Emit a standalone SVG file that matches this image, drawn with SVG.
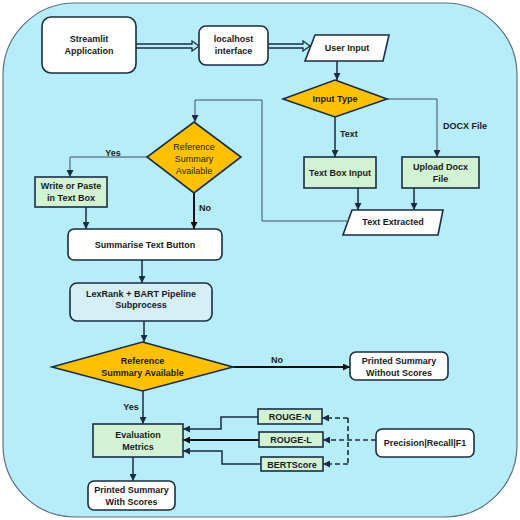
<svg xmlns="http://www.w3.org/2000/svg" width="520" height="520" viewBox="0 0 520 520">
<defs>
<marker id="ah" viewBox="0 0 10 10" refX="10" refY="5" markerWidth="7" markerHeight="7" markerUnits="userSpaceOnUse" orient="auto">
<path d="M0,0 L10,5 L0,10 z" fill="#1b2d45"/>
</marker>
<marker id="ahb" viewBox="0 0 10 10" refX="10" refY="5" markerWidth="7" markerHeight="7" markerUnits="userSpaceOnUse" orient="auto">
<path d="M0,0 L10,5 L0,10 z" fill="#111"/>
</marker>
</defs>
<style>
text{font-family:"Liberation Sans",Arial,sans-serif;font-size:9px;font-weight:bold;fill:#1a1a1a;text-anchor:middle}
.lbl{text-anchor:start}
.lt{font-weight:normal;fill:#222}
.box{stroke:#1b2d45;stroke-width:1.6}
.w{fill:#ffffff}
.g{fill:#d2f2d4}
.b{fill:#d6eff6}
.d{fill:#ffc000}
.c{fill:none;stroke:#1b2d45;stroke-width:1.5;marker-end:url(#ah)}
.ck{fill:none;stroke:#111;stroke-width:2;marker-end:url(#ahb)}
.ct{fill:none;stroke:#3e5060;stroke-width:1;marker-end:url(#ah)}
.cd{fill:none;stroke:#1b2d45;stroke-width:1.6;stroke-dasharray:5,3}
.cda{fill:none;stroke:#1b2d45;stroke-width:1.6;stroke-dasharray:5,3;marker-end:url(#ah)}
</style>
<rect x="3" y="3" width="514" height="514" rx="72" ry="72" fill="#b6edf9" stroke="#5a6f80" stroke-width="1.2"/>

<g id="connectors">
<path d="M136,44 H192 V41 L199,46 L192,51 V48 H136" fill="none" stroke="#1b2d45" stroke-width="1.3"/>
<path d="M268,44 H303 V41 L310,46 L303,51 V48 H268" fill="none" stroke="#1b2d45" stroke-width="1.3"/>
<path class="c" d="M337,61 V80"/>
<path class="c" d="M335,117 V157"/>
<path class="ct" d="M387,99 H437 V157"/>
<path class="c" d="M358,188 V210"/>
<path class="c" d="M414,188 V210"/>
<path class="ct" d="M347,221 H262 V100 H195 V122"/>
<path class="ct" d="M147,157 H70 V177"/>
<path class="ck" d="M194,193 V229"/>
<path class="c" d="M86,207 V229"/>
<path class="c" d="M142,260 V283"/>
<path class="c" d="M144,321 V342"/>
<path class="ck" d="M233,367 H350"/>
<path class="c" d="M143,391 V424"/>
<path class="c" d="M133,457 V481"/>
<path class="c" d="M258,417 H221 V429 H183"/>
<path class="ck" d="M259,440 H183"/>
<path class="c" d="M261,464 H222 V451 H183"/>
<path class="cda" d="M376,440 H323"/>
<path class="cd" d="M348,418 V464"/>
<path class="cda" d="M348,418 H322"/>
<path class="cda" d="M348,464 H323"/>
<text class="lbl" x="340" y="137">Text</text>
<text class="lbl" x="443" y="129">DOCX File</text>
<text x="113" y="156">Yes</text>
<text class="lbl" x="199" y="211">No</text>
<text class="lbl" x="271" y="363">No</text>
<text x="131" y="410">Yes</text>
</g>

<g id="streamlit">
<rect class="box w" x="42" y="17" width="94" height="56" rx="9"/>
<text x="89" y="42">Streamlit</text>
<text x="89" y="54">Application</text>
</g>
<g id="localhost">
<rect class="box w" x="199" y="26" width="69" height="39" rx="7"/>
<text x="233.5" y="42">localhost</text>
<text x="233.5" y="54">interface</text>
</g>
<g id="user-input">
<polygon class="box w" points="315,35 389,35 383,61 305,61"/>
<text x="347" y="51">User Input</text>
</g>
<g id="input-type">
<polygon class="box d" points="335,80 387,99 335,117 283,99"/>
<text x="335" y="102">Input Type</text>
</g>
<g id="text-box-input">
<rect class="box g" x="304" y="157" width="72" height="31"/>
<text x="340" y="176">Text Box Input</text>
</g>
<g id="upload-docx">
<rect class="box g" x="402" y="157" width="77" height="31"/>
<text x="440.5" y="170">Upload Docx</text>
<text x="440.5" y="182">File</text>
</g>
<g id="text-extracted">
<polygon class="box w" points="352,210 443,210 438,235 343,235"/>
<text x="393" y="225">Text Extracted</text>
</g>
<g id="ref-summary-1">
<polygon class="box d" points="194,122 241,157 194,193 147,157"/>
<text class="lt" x="194" y="150">Reference</text>
<text class="lt" x="194" y="162">Summary</text>
<text class="lt" x="194" y="174">Available</text>
</g>
<g id="write-paste">
<rect class="box g" x="35" y="177" width="72" height="30"/>
<text x="71" y="189">Write or Paste</text>
<text x="71" y="201">in Text Box</text>
</g>
<g id="summarise">
<rect class="box w" x="68" y="229" width="154" height="31" rx="6"/>
<text x="145" y="248">Summarise Text Button</text>
</g>
<g id="lexrank">
<rect class="box b" x="70" y="283" width="142" height="38" rx="7"/>
<text x="141" y="297">LexRank + BART Pipeline</text>
<text x="141" y="308">Subprocess</text>
</g>
<g id="ref-summary-2">
<polygon class="box d" points="142.5,342 233,367 142.5,391 52,367"/>
<text x="142.5" y="364">Reference</text>
<text x="142.5" y="376">Summary Available</text>
</g>
<g id="printed-without">
<rect class="box w" x="350" y="352" width="98" height="28" rx="6"/>
<text x="399" y="364">Printed Summary</text>
<text x="399" y="376">Without Scores</text>
</g>
<g id="evaluation">
<rect class="box g" x="93" y="424" width="90" height="33"/>
<text x="138" y="438">Evaluation</text>
<text x="138" y="450">Metrics</text>
</g>
<g id="printed-with">
<rect class="box w" x="88" y="481" width="87" height="29" rx="6"/>
<text x="131.5" y="493">Printed Summary</text>
<text x="131.5" y="505">With Scores</text>
</g>
<g id="rouge-n">
<rect class="box g" x="258" y="409" width="64" height="15"/>
<text x="290" y="420">ROUGE-N</text>
</g>
<g id="rouge-l">
<rect class="box g" x="259" y="432" width="64" height="15"/>
<text x="291" y="443">ROUGE-L</text>
</g>
<g id="bertscore">
<rect class="box g" x="261" y="457" width="62" height="14"/>
<text x="292" y="467.5">BERTScore</text>
</g>
<g id="precision">
<rect class="box w" x="376" y="429" width="98" height="28" rx="6"/>
<text x="425" y="446">Precision|Recall|F1</text>
</g>
</svg>
